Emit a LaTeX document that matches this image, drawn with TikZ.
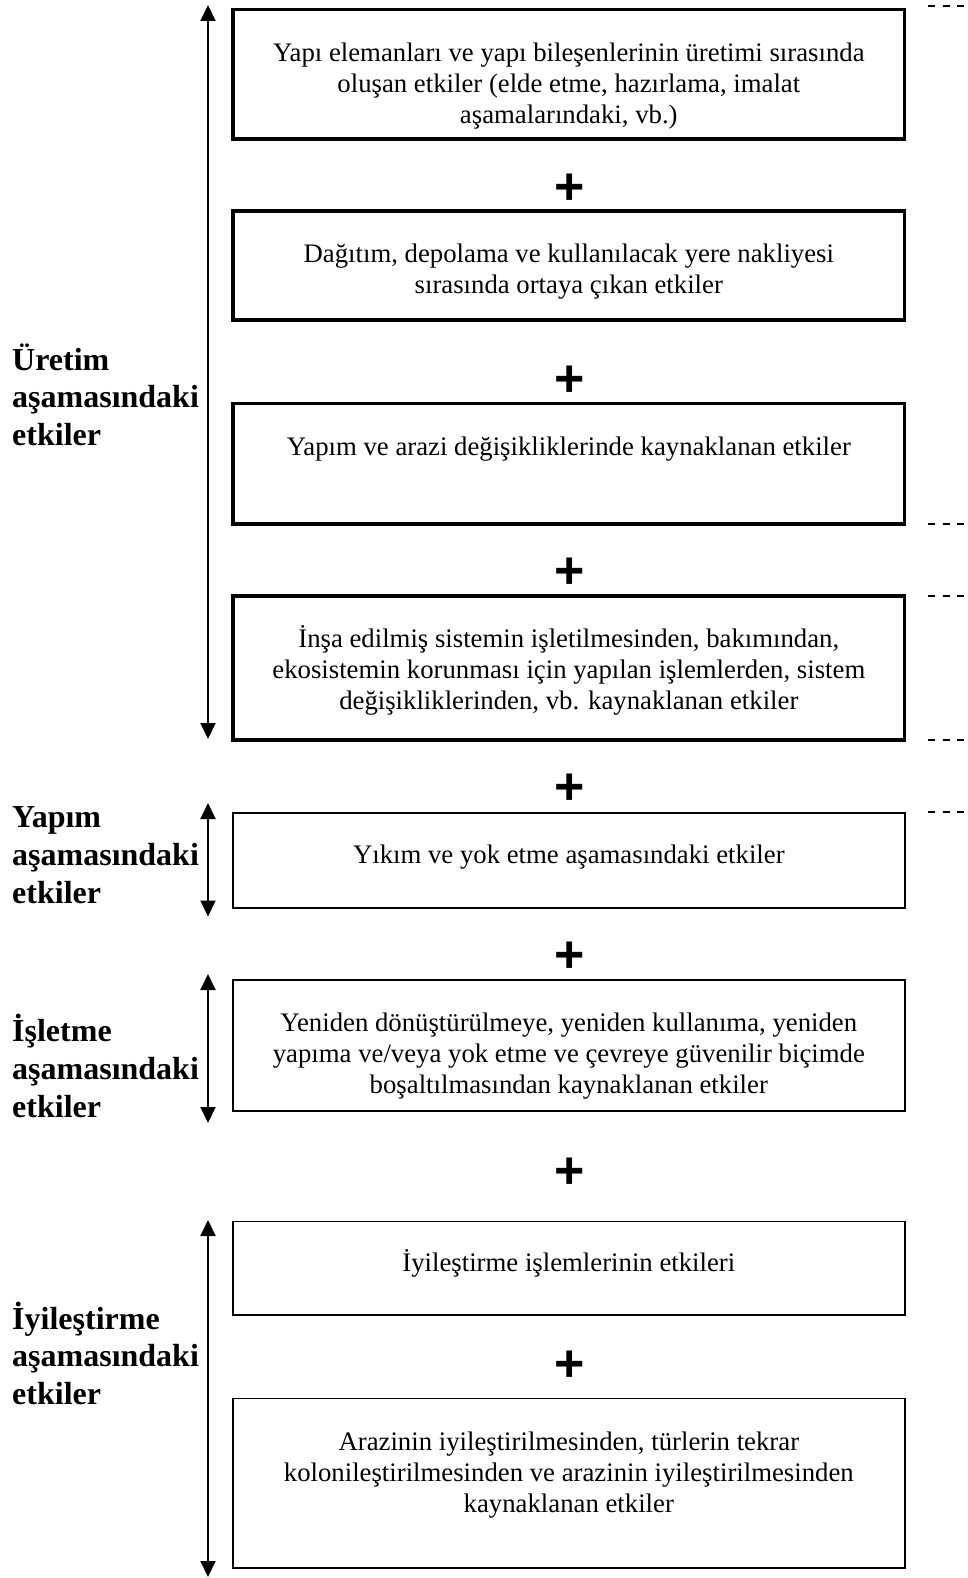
\documentclass[tikz,border=0pt]{standalone}
\usepackage{fontspec}
\setmainfont{Liberation Serif}
\newfontfamily\plusfont{Liberation Sans}
\usetikzlibrary{arrows.meta}
\begin{document}
\begin{tikzpicture}[x=1pt,y=-1pt,
  thickbox/.style={draw, line width=3.5pt, minimum width=671.7pt, inner sep=0pt},
  thinbox/.style={draw, line width=1.8pt, minimum width=671.7pt, inner sep=0pt},
  boxtext/.style={anchor=north, inner sep=0pt, align=center, font=\fontsize{26.75pt}{31pt}\selectfont},
  plussign/.style={inner sep=0pt, font=\plusfont\bfseries\fontsize{52pt}{52pt}\selectfont},
  phaselabel/.style={anchor=north west, inner sep=0pt, align=left, font=\bfseries\fontsize{32pt}{37.7pt}\selectfont},
  biarrow/.style={line width=2pt, {Triangle[length=16pt,width=15pt]}-{Triangle[length=16pt,width=15pt]}},
  dashline/.style={line width=2pt, dash pattern=on 7pt off 7.5pt}
]
\useasboundingbox (0,0) rectangle (967,1578);

% boxes
\node[thickbox, minimum height=129.5pt] (b1) at (568.8,74.25) {};
\node[thickbox, minimum height=109pt] (b2) at (568.8,265.5) {};
\node[thickbox, minimum height=120.5pt] (b3) at (568.8,463.75) {};
\node[thickbox, minimum height=144pt] (b4) at (568.8,668) {};
\node[thinbox, minimum height=95pt] (b5) at (568.8,860.5) {};
\node[thinbox, minimum height=130.7pt] (b6) at (568.8,1045.35) {};
\node[thinbox, minimum height=93.5pt] (b7) at (568.8,1268.25) {};
\node[thinbox, minimum height=169.5pt] (b8) at (568.8,1483.25) {};

% box texts
\node[boxtext] (t1) at (568.8,37) {\rule{0pt}{24pt}Yapı elemanları ve yapı bileşenlerinin üretimi sırasında\\ oluşan etkiler (elde etme, hazırlama, imalat\\ aşamalarındaki, vb.)};
\node[boxtext] (t2) at (568.8,238.5) {\rule{0pt}{24pt}Dağıtım, depolama ve kullanılacak yere nakliyesi\\ sırasında ortaya çıkan etkiler};
\node[boxtext] (t3) at (568.8,431) {\rule{0pt}{24pt}Yapım ve arazi değişikliklerinde kaynaklanan etkiler};
\node[boxtext] (t4) at (568.8,623.5) {\rule{0pt}{24pt}İnşa edilmiş sistemin işletilmesinden, bakımından,\\ ekosistemin korunması için yapılan işlemlerden, sistem\\ değişikliklerinden, vb. kaynaklanan etkiler};
\node[boxtext] (t5) at (568.8,839.5) {\rule{0pt}{24pt}Yıkım ve yok etme aşamasındaki etkiler};
\node[boxtext] (t6) at (568.8,1007.5) {\rule{0pt}{24pt}Yeniden dönüştürülmeye, yeniden kullanıma, yeniden\\ yapıma ve/veya yok etme ve çevreye güvenilir biçimde\\ boşaltılmasından kaynaklanan etkiler};
\node[boxtext] (t7) at (568.8,1247.5) {\rule{0pt}{24pt}İyileştirme işlemlerinin etkileri};
\node[boxtext] (t8) at (568.8,1426.5) {\rule{0pt}{24pt}Arazinin iyileştirilmesinden, türlerin tekrar\\ kolonileştirilmesinden ve arazinin iyileştirilmesinden\\ kaynaklanan etkiler};

% plus signs
\node[plussign] (p1) at (569.5,189) {+};
\node[plussign] (p2) at (569.5,381) {+};
\node[plussign] (p3) at (569.5,573.5) {+};
\node[plussign] (p4) at (569.5,789) {+};
\node[plussign] (p5) at (569.5,957) {+};
\node[plussign] (p6) at (569.5,1173) {+};
\node[plussign] (p7) at (569.5,1366.5) {+};

% phase labels
\node[phaselabel] (l1) at (12,340) {\rule{0pt}{30pt}Üretim\\ aşamasındaki\\ etkiler};
\node[phaselabel] (l2) at (12,797.5) {\rule{0pt}{30pt}Yapım\\ aşamasındaki\\ etkiler};
\node[phaselabel] (l3) at (12,1011.5) {\rule{0pt}{30pt}İşletme\\ aşamasındaki\\ etkiler};
\node[phaselabel] (l4) at (12,1299) {\rule{0pt}{30pt}İyileştirme\\ aşamasındaki\\ etkiler};

% double arrows
\coordinate (a1t) at (208,5);    \coordinate (a1b) at (208,739);
\coordinate (a2t) at (208,803);  \coordinate (a2b) at (208,916.5);
\coordinate (a3t) at (208,974);  \coordinate (a3b) at (208,1123);
\coordinate (a4t) at (208,1220); \coordinate (a4b) at (208,1577);
\draw[biarrow] (a1t) -- (a1b);
\draw[biarrow] (a2t) -- (a2b);
\draw[biarrow] (a3t) -- (a3b);
\draw[biarrow] (a4t) -- (a4b);

% dashed stubs at right
\coordinate (d1s) at (928,6);   \coordinate (d1e) at (965,6);
\coordinate (d2s) at (928,524); \coordinate (d2e) at (965,524);
\coordinate (d3s) at (928,596); \coordinate (d3e) at (965,596);
\coordinate (d4s) at (928,740); \coordinate (d4e) at (965,740);
\coordinate (d5s) at (928,812); \coordinate (d5e) at (965,812);
\draw[dashline] (d1s) -- (d1e);
\draw[dashline] (d2s) -- (d2e);
\draw[dashline] (d3s) -- (d3e);
\draw[dashline] (d4s) -- (d4e);
\draw[dashline] (d5s) -- (d5e);
\end{tikzpicture}
\end{document}
